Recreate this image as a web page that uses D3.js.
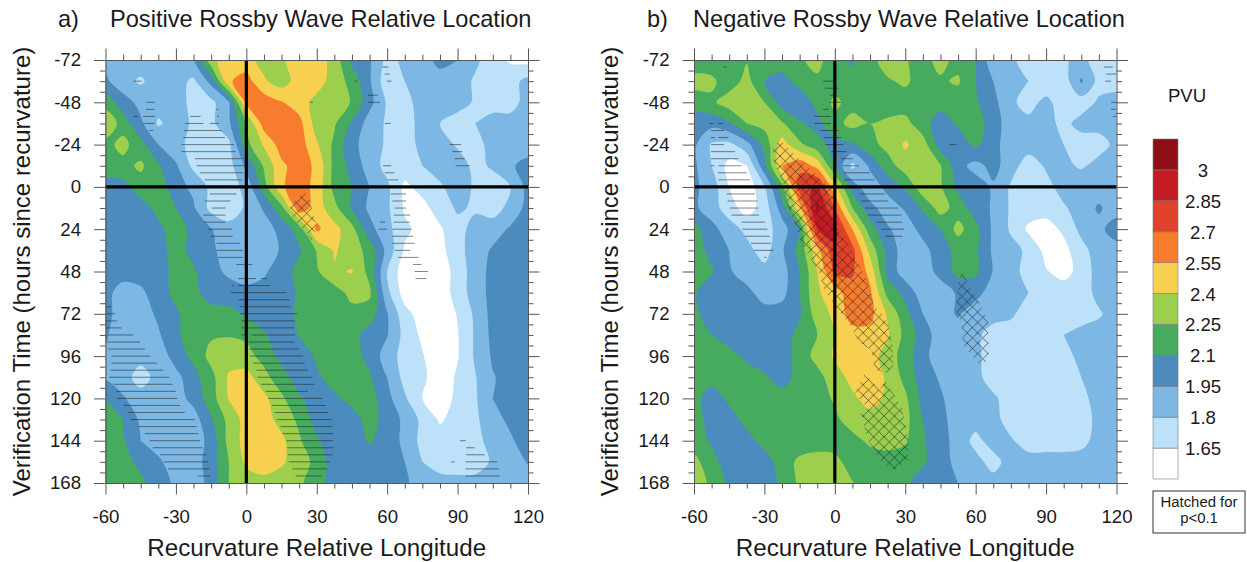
<!DOCTYPE html>
<html>
<head>
<meta charset="utf-8">
<script src="https://cdn.jsdelivr.net/npm/d3@7"></script>
<style>
  html, body { margin: 0; background: #fff; }
  text { font-family: "Liberation Sans", Arial, sans-serif; fill: #1a1a1a; }
</style>
</head>
<body>
<svg id="chart" width="1247" height="562"></svg>
<script>
const lonStart = -60, lonStep = 7.5, lonEnd = 120;
const timeStart = -72, timeStep = 12, timeEnd = 168;

const lonTicks = [-60, -30, 0, 30, 60, 90, 120];
const timeTicks = [-72, -48, -24, 0, 24, 48, 72, 96, 120, 144, 168];
const levels = [1.65, 1.8, 1.95, 2.1, 2.25, 2.4, 2.55, 2.7, 2.85, 3];
const levelColors = ["#ffffff", "#bce1f9", "#7db8e4", "#4b8bbd", "#46ab5f", "#9dcf4f", "#f7d04f", "#f77c2e", "#e0412a", "#c41a23", "#8e1016"];

// PV, one row per 12 h, one column per 7.5 deg
const pvPositive = [
  [1.88,1.87,1.87,1.87,1.86,1.94,2.35,2.5,2.45,2.35,2.38,2.48,2.47,2.35,2.05,1.97,1.75,1.83,1.88,2.0,1.95,1.83,1.72,1.63,1.6],
  [1.98,1.85,1.78,1.87,1.86,1.77,2.0,2.53,2.62,2.42,2.33,2.47,2.47,2.33,2.2,1.97,1.7,1.8,1.87,1.88,1.87,1.78,1.72,1.74,1.85],
  [2.18,2.02,1.9,1.86,1.86,1.76,1.76,1.93,2.58,2.64,2.56,2.47,2.35,2.32,2.24,2.0,1.78,1.76,1.85,1.87,1.87,1.78,1.73,1.75,1.85],
  [2.38,2.18,1.98,1.78,1.86,1.78,1.76,1.92,2.25,2.62,2.64,2.6,2.33,2.27,2.08,1.88,1.78,1.75,1.84,1.8,1.72,1.8,1.87,1.85,1.85],
  [2.2,2.3,2.15,1.95,1.85,1.75,1.74,1.76,2.2,2.42,2.62,2.63,2.42,2.22,1.98,1.9,1.77,1.72,1.85,1.87,1.78,1.75,1.85,1.87,1.87],
  [2.18,2.2,2.28,2.12,1.97,1.76,1.72,1.74,1.98,2.27,2.52,2.62,2.52,2.2,2.05,1.88,1.75,1.72,1.8,1.86,1.87,1.76,1.82,1.93,2.0],
  [2.03,2.05,2.18,2.2,2.0,1.92,1.76,1.72,1.85,2.18,2.53,2.63,2.5,2.2,2.1,1.95,1.83,1.62,1.7,1.78,1.87,1.78,1.73,1.8,2.0],
  [2.02,2.01,2.03,2.15,2.1,1.97,1.75,1.72,1.82,1.97,2.2,2.65,2.48,2.3,2.08,1.92,1.83,1.63,1.6,1.72,1.82,1.78,1.73,1.85,2.0],
  [2.02,2.02,2.01,2.06,2.18,2.05,1.96,1.85,1.82,1.88,2.0,2.17,2.58,2.45,2.3,2.0,1.85,1.68,1.6,1.63,1.75,1.85,1.88,1.97,2.03],
  [2.01,2.01,2.02,2.03,2.17,2.05,1.98,1.88,1.83,1.85,1.97,2.08,2.26,2.42,2.32,2.2,1.9,1.63,1.58,1.6,1.75,1.87,1.97,2.03,2.03],
  [2.0,2.02,2.02,2.03,2.15,2.12,2.0,1.92,1.9,1.93,2.02,2.15,2.23,2.38,2.41,2.2,1.8,1.55,1.55,1.55,1.72,1.87,2.0,2.03,2.03],
  [2.0,1.88,1.92,2.03,2.14,2.15,2.02,2.02,1.98,2.0,2.03,2.12,2.17,2.18,2.3,2.28,1.84,1.58,1.55,1.55,1.72,1.87,2.0,2.03,2.03],
  [2.0,1.87,1.87,1.98,2.08,2.17,2.17,2.15,2.08,2.0,2.0,2.14,2.2,2.2,2.2,2.18,1.96,1.7,1.58,1.55,1.66,1.83,2.0,2.03,2.03],
  [1.97,1.85,1.82,1.93,2.07,2.18,2.23,2.24,2.22,2.12,2.0,2.11,2.18,2.18,2.17,2.03,1.96,1.75,1.62,1.55,1.64,1.82,1.99,2.02,2.03],
  [1.92,1.86,1.84,1.85,2.02,2.14,2.3,2.33,2.3,2.2,2.05,2.0,2.13,2.17,2.17,2.05,1.88,1.74,1.66,1.55,1.64,1.82,1.97,2.02,2.03],
  [1.93,1.85,1.75,1.84,1.9,2.05,2.2,2.42,2.46,2.3,2.16,2.03,2.07,2.17,2.17,2.12,1.95,1.75,1.68,1.57,1.67,1.79,1.94,2.0,2.03],
  [2.1,1.97,1.85,1.85,1.88,2.0,2.18,2.41,2.5,2.44,2.28,2.12,2.03,2.07,2.15,2.17,2.0,1.82,1.65,1.58,1.68,1.78,1.95,2.02,2.03],
  [2.14,2.1,1.92,1.86,1.85,1.88,2.08,2.3,2.46,2.47,2.34,2.22,2.04,2.0,2.03,2.17,2.03,1.92,1.76,1.63,1.71,1.77,1.9,1.98,2.03],
  [2.17,2.12,1.95,1.87,1.85,1.87,2.0,2.3,2.46,2.5,2.44,2.27,2.12,2.0,2.0,2.12,2.02,1.92,1.75,1.72,1.72,1.75,1.86,1.93,2.02],
  [2.17,2.17,2.05,1.98,1.86,1.87,2.03,2.25,2.43,2.48,2.42,2.33,2.2,2.02,2.0,2.0,2.0,1.95,1.8,1.74,1.72,1.73,1.82,1.88,1.96],
  [2.17,2.16,2.14,2.0,1.93,1.87,2.0,2.25,2.33,2.35,2.33,2.28,2.16,2.03,2.0,2.0,2.0,1.98,1.87,1.85,1.85,1.85,1.85,1.85,1.87]
];

const pvNegative = [
  [2.17,2.17,2.2,2.24,2.17,2.17,2.23,2.3,2.15,2.08,2.2,2.33,2.26,2.2,2.3,2.2,2.1,1.85,1.82,1.75,1.72,1.78,1.85,1.72,1.72],
  [2.3,2.28,2.17,2.3,2.1,2.05,2.15,2.22,2.18,2.15,2.17,2.23,2.28,2.17,2.23,2.27,2.1,1.95,1.87,1.8,1.72,1.72,1.97,1.75,1.73],
  [2.18,2.22,2.33,2.33,2.25,2.03,2.0,2.15,2.28,2.2,2.15,2.17,2.17,2.15,2.15,2.17,2.12,2.0,1.82,1.76,1.83,1.74,1.73,1.82,1.87],
  [2.0,2.0,2.08,2.25,2.3,2.27,2.12,2.05,2.2,2.3,2.25,2.28,2.3,2.16,2.03,2.12,2.18,2.02,1.87,1.83,1.85,1.76,1.85,1.87,1.92],
  [1.98,1.78,1.76,1.9,2.15,2.47,2.28,2.15,2.05,2.08,2.2,2.3,2.42,2.32,2.03,2.02,2.13,2.0,1.87,1.87,1.87,1.8,1.73,1.72,1.85],
  [1.98,1.8,1.6,1.65,2.05,2.55,2.65,2.5,2.1,1.76,1.98,2.18,2.33,2.33,2.26,2.0,1.9,2.0,1.87,1.72,1.82,1.85,1.77,1.87,1.87],
  [1.98,1.88,1.65,1.55,1.78,2.2,2.78,2.88,2.45,2.03,1.85,2.0,2.12,2.35,2.27,2.07,2.02,1.93,1.78,1.72,1.75,1.86,1.95,1.87,1.87],
  [1.98,1.87,1.72,1.58,1.72,2.02,2.5,3.03,2.7,2.25,2.0,1.87,1.97,2.12,2.32,2.18,2.03,1.93,1.78,1.73,1.72,1.78,1.87,1.97,1.87],
  [2.15,2.0,1.87,1.76,1.73,1.88,2.1,2.85,2.9,2.55,2.17,1.97,1.87,2.0,2.1,2.3,2.15,1.92,1.78,1.62,1.58,1.68,1.84,1.9,2.05],
  [2.18,2.05,1.95,1.85,1.73,1.93,2.15,2.5,2.82,2.75,2.35,2.05,1.87,1.9,2.03,2.15,2.13,1.92,1.85,1.77,1.6,1.6,1.75,1.87,1.87],
  [2.18,2.12,1.97,1.86,1.85,1.88,2.1,2.4,2.73,2.72,2.5,2.05,1.87,1.87,2.0,2.15,2.13,1.94,1.87,1.73,1.66,1.6,1.7,1.87,1.87],
  [2.12,2.0,2.02,2.0,1.87,1.9,2.1,2.38,2.48,2.65,2.58,2.2,2.05,1.87,1.87,1.97,2.0,1.88,1.86,1.8,1.72,1.72,1.72,1.85,1.87],
  [2.13,2.03,2.03,2.02,2.02,2.02,2.08,2.33,2.43,2.63,2.6,2.38,2.15,1.95,1.87,1.97,1.87,1.87,1.83,1.72,1.72,1.72,1.72,1.78,1.87],
  [2.15,2.1,2.03,2.02,2.02,2.02,2.15,2.25,2.4,2.48,2.5,2.42,2.2,2.03,1.87,1.86,1.84,1.72,1.72,1.7,1.72,1.8,1.86,1.87,1.87],
  [2.17,2.17,2.15,2.07,2.02,2.02,2.17,2.3,2.42,2.5,2.47,2.33,2.18,2.0,1.86,1.86,1.84,1.72,1.7,1.7,1.7,1.75,1.84,1.87,1.87],
  [2.17,2.17,2.17,2.17,2.12,2.03,2.16,2.2,2.33,2.45,2.47,2.38,2.2,2.03,1.93,1.87,1.85,1.72,1.7,1.7,1.7,1.72,1.8,1.87,1.87],
  [2.17,2.0,2.14,2.17,2.17,2.17,2.17,2.18,2.27,2.37,2.46,2.37,2.28,2.05,1.97,1.87,1.87,1.83,1.72,1.7,1.7,1.7,1.75,1.87,1.87],
  [2.17,2.04,2.02,2.16,2.17,2.17,2.17,2.18,2.22,2.32,2.34,2.35,2.3,2.1,2.0,1.87,1.87,1.86,1.72,1.7,1.7,1.7,1.72,1.85,1.87],
  [2.17,2.08,2.02,2.03,2.17,2.17,2.17,2.17,2.17,2.2,2.28,2.32,2.27,2.12,2.0,1.9,1.75,1.87,1.82,1.72,1.72,1.72,1.75,1.86,1.87],
  [2.3,2.15,2.02,2.0,2.02,2.18,2.28,2.32,2.3,2.17,2.17,2.17,2.17,2.12,2.02,1.9,1.85,1.74,1.87,1.87,1.87,1.87,1.87,1.87,1.87],
  [2.33,2.22,2.07,2.02,2.02,2.13,2.28,2.33,2.33,2.26,2.17,2.17,2.13,2.03,2.0,1.95,1.87,1.86,1.86,1.86,1.86,1.86,1.86,1.86,1.86]
];

// p<0.1 single hatching: [hour, lon from, lon to]
const hatchPositive = [
  [-68,57.9,60.6],[-64,59,61],[-60,-48.2,-44.6],[-60,46.1,47.3],[-60,59.9,61.8],[-52,51.8,56],[-48,-42.5,-39],[-48,27,28.4],[-48,51.8,56.8],
  [-44,-42.8,-39],[-44,-12.7,-11.8],[-40,-47.9,-46],[-40,-44,-39],[-40,-24,-19.5],[-40,-12.4,-11.6],[-36,-44,-39],[-36,-26.2,-18.4],[-36,-15.5,-11.6],[-36,59,61.4],
  [-32,-41.3,-39.6],[-32,-26.5,-10.6],[-28,-26.9,-9.1],[-24,-27.6,-5.3],[-24,86.6,91.5],[-20,-27.6,-4.6],[-20,87.7,92],[-16,-21.9,-1.8],[-16,88.7,93],
  [-12,-21.2,-0.6],[-12,58.2,61.8],[-12,89.1,95.1],[-8,-19.8,-1.4],[-8,59,63.2],[-4,-17.7,-1.8],[-4,60.1,64.7],
  [4,-15.5,-4.2],[4,61.5,68.1],[8,-17.7,-6.8],[8,62.2,68.1],[12,-14.8,-8.7],[12,63.2,68.1],[16,-18.4,-8.9],[16,62.8,69.8],
  [20,-18.1,-8.9],[20,56.8,59.2],[20,62.8,69.6],[24,-16.2,-6],[24,56.5,60],[24,62.2,70.3],[28,-15.2,-5.9],[28,62.2,71],
  [32,-12.7,-2.8],[32,62.2,71.7],[36,-12.7,-1.4],[36,63.2,69.8],[40,-12,-1.4],[40,64.7,73.4],[44,-4.2,2.6],[44,71,74.6],[48,71.7,77.4],
  [52,-3.5,4],[52,6.4,8.6],[52,72.1,76.7],[56,-6.3,-5.3],[56,-3.5,10],[60,-6.6,17.1],[64,-3.5,18.5],
  [68,-60,-57.8],[68,-2.8,18.9],[72,-60,-56],[72,-2.8,21.6],[76,-60,-55.2],[76,-2,20.7],[80,-60,-53.1],[80,-2,20.2],
  [84,-59.2,-48.2],[84,-2,-0.6],[84,2.2,20.7],[88,-59.2,-45.3],[88,1.2,20.7],[92,-58.8,-43.2],[92,1.2,22.5],[96,-57.4,-41.1],[96,1.5,24.2],
  [100,-57.4,-38.2],[100,2.9,24.9],[104,-57.8,-35.4],[104,4.3,26.3],[108,-58.4,-32.8],[108,4.8,28.1],[112,-56.4,-31.4],[112,6.4,29.1],
  [116,-55.5,-30],[116,8.3,26.3],[120,-55,-29.4],[120,9.3,32.4],[124,-52.4,-28.3],[124,11,33.8],[128,-50.3,-26.2],[128,12.1,34.8],
  [132,-49.3,-21.9],[132,13.1,36.7],[136,-46,-21.2],[136,14.5,36.7],[140,-43.2,-20.5],[140,15.4,36.9],[144,-41.1,-19.8],[144,17.1,36.9],[144,91.1,93.4],
  [148,-39.9,-18.7],[148,17.4,37.2],[148,93.7,97.2],[152,-36.8,-17],[152,17.8,36.7],[152,93.7,101.5],[156,-35.1,-16.2],[156,18.1,35.8],[156,87.3,88.7],[156,93.3,106.9],
  [160,-33.3,-15.8],[160,19.6,34.4],[160,93.3,107.6],[164,-20.5,-15.5],[164,21,32],[164,93.3,107.9]
];

const hatchNegative = [
  [-68,-47.5,-46.1],[-68,114.6,118.4],[-64,115.6,120],[-60,-5,0],[-60,115.2,117.7],[-56,-4.3,1.4],[-52,-2.1,0],[-48,-2.1,2.8],[-48,117.7,120],
  [-44,-5,-2.6],[-44,117.7,120],[-40,-8.8,-1.7],[-40,118.4,120],[-36,-53.2,-51.8],[-36,-49.6,-47.5],[-36,-8.8,-1.7],[-32,-52.8,-47.1],[-32,-6.4,1.4],
  [-28,-52.8,-51],[-28,-49.6,-45.4],[-28,-4.5,2.8],[-24,-52.8,-47.1],[-24,-4,3.5],[-24,48.9,51.8],[-20,-52.8,-42.6],[-20,-1.4,5],[-16,-52.8,-41.1],[-16,2.8,7.8],
  [-12,-52.8,-51.3],[-12,-49.6,-39.7],[-12,3.5,10.2],[-8,-49.9,-37.6],[-8,4,14.9],[-4,-49.6,-36.2],[-4,4,17],
  [4,-46.1,-34],[4,10.6,21.3],[8,-45.7,-32.9],[8,11.3,22.7],[12,-44.7,-32.6],[12,12.8,27],[16,-44,-32.3],[16,14.2,28.4],
  [20,-39.7,-29.8],[20,17.7,28.7],[24,-39.4,-28.7],[24,19.9,29.4],[28,-38.3,-27.7],[28,21.3,28.7],[32,-35.7,-27.2],[36,-34.3,-26.2],[40,-30.1,-29.1]
];

// p<0.1 cross hatching outlines: [lon, hour]
const crossPositive = [
  [[24.2,3.3],[26.3,4.6],[27.7,11.2],[29.9,21.6],[29.1,25.4],[27.7,30.1],[25.6,25.4],[20.2,18.8],[18.5,10.3]]
];
const crossNegative = [
  [[-26.7,-24.7],[-22,-25.1],[-17,-18.1],[-8.5,-7.7],[-1.4,1.8],[1.4,21.6],[10.6,45.3],[13.5,52.8],[17,68],[20.6,72.7],[22.7,78.4],[24.8,90.6],[24.8,102],[22,105.8],[17,103.9],[15.6,92.5],[9.9,87.8],[7.1,79.3],[1.4,69.8],[-4.3,58.5],[-7.1,47.1],[-12.8,35.8],[-19.9,11.2],[-22,-2],[-26.2,-15.3]],
  [[12.8,105.8],[19.1,115.2],[21.3,109.6],[28.4,124.7],[31.5,143.6],[30.9,155],[25.5,160.6],[19.1,155],[14.2,143.6],[11.1,128.5],[14.2,125.6],[8.5,117.1]],
  [[54.3,48.1],[56,52.8],[61.7,66.1],[65.2,76.5],[65.5,97.3],[62.4,102],[54.6,89.7],[53.9,77.4],[51.8,69.8],[52.5,54.7]]
];

const svg = d3.select("#chart");
const plotSize = { w: 422.5, h: 423, top: 60 };
const tickColor = "#555";

const defs = svg.append("defs");
const cross = defs.append("pattern")
  .attr("id", "crosshatch")
  .attr("patternUnits", "userSpaceOnUse")
  .attr("width", 10.4)
  .attr("height", 10.4);
cross.append("path")
  .attr("d", "M0,0L10.4,10.4M10.4,0L0,10.4")
  .attr("stroke", "#222")
  .attr("stroke-opacity", 0.75)
  .attr("stroke-width", 0.8);

const drawPanel = (left, id, letter, letterX, title, titleX, values, hatch, crossAreas) => {
  const x = d3.scaleLinear().domain([lonStart, lonEnd]).range([left, left + plotSize.w]);
  const y = d3.scaleLinear().domain([timeStart, timeEnd]).range([plotSize.top, plotSize.top + plotSize.h]);

  defs.append("clipPath").attr("id", `clip-${id}`)
    .append("rect")
    .attr("x", left).attr("y", plotSize.top)
    .attr("width", plotSize.w).attr("height", plotSize.h);

  // one extra row and column all round so the bands run off the plot edge
  const rows = values.length, cols = values[0].length;
  const padded = [];
  for (let j = -1; j <= rows; j++) {
    for (let i = -1; i <= cols; i++) {
      padded.push(values[Math.max(0, Math.min(rows - 1, j))][Math.max(0, Math.min(cols - 1, i))]);
    }
  }
  const bands = d3.contours().size([cols + 2, rows + 2]).thresholds(levels)(padded);

  const ringLine = d3.line()
    .x((d) => x(lonStart + (d[0] - 1.5) * lonStep))
    .y((d) => y(timeStart + (d[1] - 1.5) * timeStep))
    .curve(d3.curveCatmullRomClosed.alpha(0.5));

  const plot = svg.append("g").attr("clip-path", `url(#clip-${id})`);
  plot.append("rect")
    .attr("x", left).attr("y", plotSize.top)
    .attr("width", plotSize.w).attr("height", plotSize.h)
    .attr("fill", levelColors[0]);

  plot.selectAll("path.band")
    .data(bands)
    .join("path")
    .attr("class", "band")
    .attr("fill-rule", "evenodd")
    .attr("fill", (d, i) => levelColors[i + 1])
    .attr("d", (d) => d.coordinates
      .flatMap((poly) => poly.map((ring) => ringLine(ring.slice(0, -1))))
      .join(""));

  plot.selectAll("line.hatch")
    .data(hatch)
    .join("line")
    .attr("class", "hatch")
    .attr("x1", (d) => x(d[1]))
    .attr("x2", (d) => x(d[2]))
    .attr("y1", (d) => y(d[0]))
    .attr("y2", (d) => y(d[0]))
    .attr("stroke", "#222")
    .attr("stroke-opacity", 0.62)
    .attr("stroke-width", 0.9);

  plot.selectAll("path.cross")
    .data(crossAreas)
    .join("path")
    .attr("class", "cross")
    .attr("fill", "url(#crosshatch)")
    .attr("d", d3.line().x((d) => x(d[0])).y((d) => y(d[1])).curve(d3.curveLinearClosed));

  // zero lines
  svg.append("line").attr("x1", x(0)).attr("x2", x(0))
    .attr("y1", y(timeStart)).attr("y2", y(timeEnd))
    .attr("stroke", "#000").attr("stroke-width", 3.2);
  svg.append("line").attr("x1", x(lonStart)).attr("x2", x(lonEnd))
    .attr("y1", y(0)).attr("y2", y(0))
    .attr("stroke", "#000").attr("stroke-width", 3.2);

  // axes, all four sides with ticks pointing out
  const lonMinor = d3.range(lonStart, lonEnd + 0.1, 7.5).filter((d) => !lonTicks.includes(d));
  const timeMinor = d3.range(timeStart, timeEnd + 0.1, 6).filter((d) => !timeTicks.includes(d));

  const addAxis = (axisFn, scale, ticks, minor, translate, padding) => {
    const g = svg.append("g").attr("transform", translate);
    g.call(axisFn(scale).tickValues(ticks).tickSize(11.5).tickSizeOuter(0)
      .tickPadding(padding)
      .tickFormat(padding ? String : ""));
    g.append("g").call(axisFn(scale).tickValues(minor).tickSize(5.5).tickSizeOuter(0).tickFormat(""));
    g.selectAll("path, line").attr("stroke", tickColor).attr("stroke-width", 1);
    g.selectAll("g g path").remove();
    g.selectAll("text")
      .attr("fill", "#1a1a1a")
      .style("font-family", '"Liberation Sans", Arial, sans-serif')
      .style("font-size", "18.6px");
    return g;
  };
  addAxis(d3.axisBottom, x, lonTicks, lonMinor, `translate(0,${plotSize.top + plotSize.h})`, 15);
  addAxis(d3.axisTop, x, lonTicks, lonMinor, `translate(0,${plotSize.top})`, 0);
  addAxis(d3.axisLeft, y, timeTicks, timeMinor, `translate(${left},0)`, 13);
  addAxis(d3.axisRight, y, timeTicks, timeMinor, `translate(${left + plotSize.w},0)`, 0);

  svg.append("text").attr("x", letterX).attr("y", 27).attr("font-size", 23.6).text(letter);
  svg.append("text").attr("x", titleX).attr("y", 27).attr("font-size", 23.6).text(title);

  svg.append("text")
    .attr("x", left + plotSize.w / 2).attr("y", 555.5)
    .attr("text-anchor", "middle").attr("font-size", 24.2)
    .text("Recurvature Relative Longitude");

  svg.append("text")
    .attr("transform", `translate(${left - 76},271.5) rotate(-90)`)
    .attr("text-anchor", "middle").attr("font-size", 24)
    .text("Verification Time (hours since recurvature)");
};

drawPanel(105.5, "a", "a)", 58, "Positive Rossby Wave Relative Location", 110, pvPositive, hatchPositive, crossPositive);
drawPanel(694, "b", "b)", 647, "Negative Rossby Wave Relative Location", 693, pvNegative, hatchNegative, crossNegative);

// colour bar
const barY = d3.scaleBand().domain(d3.range(levelColors.length)).range([479, 139]);
svg.selectAll("rect.key")
  .data(levelColors)
  .join("rect")
  .attr("class", "key")
  .attr("x", 1153).attr("width", 25)
  .attr("y", (d, i) => barY(i))
  .attr("height", barY.bandwidth())
  .attr("fill", (d) => d)
  .attr("stroke", "#777")
  .attr("stroke-opacity", 0.7)
  .attr("stroke-width", 0.8);

svg.selectAll("text.keylabel")
  .data(levels)
  .join("text")
  .attr("class", "keylabel")
  .attr("x", 1203)
  .attr("y", (d, i) => barY(i) + 7)
  .attr("text-anchor", "middle")
  .attr("font-size", 18.6)
  .text((d) => d);

svg.append("text").attr("x", 1187).attr("y", 102).attr("text-anchor", "middle").attr("font-size", 18.6).text("PVU");

svg.append("rect").attr("x", 1153).attr("y", 491).attr("width", 92).attr("height", 42)
  .attr("fill", "#fff").attr("stroke", "#333").attr("stroke-width", 1);
svg.append("text").attr("x", 1199).attr("y", 507).attr("text-anchor", "middle").attr("font-size", 14.9).text("Hatched for");
svg.append("text").attr("x", 1199).attr("y", 523).attr("text-anchor", "middle").attr("font-size", 14.9).text("p<0.1");
</script>
</body>
</html>
